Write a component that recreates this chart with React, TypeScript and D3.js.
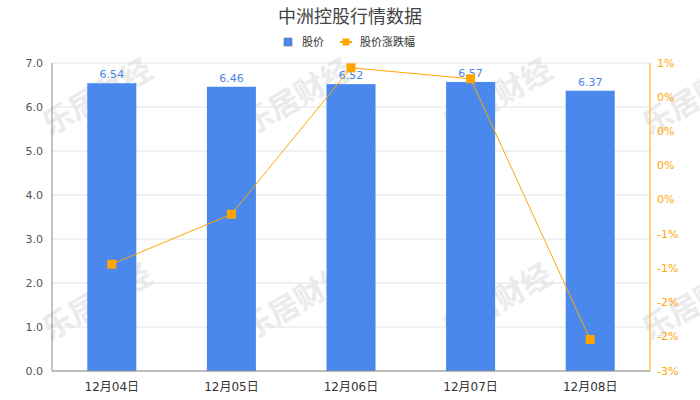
import * as d3 from 'd3';

const dates = ['12月04日', '12月05日', '12月06日', '12月07日', '12月08日'];
const prices = [6.54, 6.46, 6.52, 6.57, 6.37];
const changes = [-1.94, -1.21, 0.93, 0.77, -3.04];
const leftTicks = [0, 1, 2, 3, 4, 5, 6, 7];
const rightTickLabels = ['1%', '0%', '0%', '0%', '0%', '-1%', '-1%', '-2%', '-2%', '-3%'];
const watermarkCols = [97, 297, 497, 697];
const watermarkRows = [97, 302];

const W = 700;
const H = 400;
const margin = { top: 63, right: 50, bottom: 29, left: 52 };
const font = '"DejaVu Sans", "Noto Sans CJK SC", sans-serif';
const blue = '#4a88ee';
const orange = '#ffa500';

export default function App() {
  const x = d3.scaleBand(dates, [margin.left, W - margin.right]);
  const yL = d3.scaleLinear([0, 7], [H - margin.bottom, margin.top]);
  const yR = d3.scaleLinear([-3.5, 1], [H - margin.bottom, margin.top]);
  const rightTicks = rightTickLabels.map((_, i) => 1 - i * 0.5);
  const barW = x.bandwidth() * 0.41;
  const cx = (d: string) => (x(d) ?? 0) + x.bandwidth() / 2;

  const line = d3
    .line<number>()
    .x((_, i) => cx(dates[i]))
    .y((d) => yR(d));

  return (
    <svg
      width={W}
      height={H}
      style={{ position: 'absolute', left: 0, top: 0, fontFamily: font }}
    >
      <rect width={W} height={H} fill="#fff" />

      {/* watermarks */}
      {watermarkRows.map((wy) =>
        watermarkCols.map((wx) => (
          <text
            key={`${wx}-${wy}`}
            transform={`translate(${wx},${wy}) rotate(-30)`}
            textAnchor="middle"
            dominantBaseline="central"
            fontSize={30}
            fontWeight="bold"
            fill="#ebebeb"
          >
            乐居财经
          </text>
        ))
      )}

      {/* grid */}
      {leftTicks.map((t) => (
        <line
          key={t}
          x1={margin.left}
          x2={W - margin.right}
          y1={yL(t)}
          y2={yL(t)}
          stroke="#e3e3e3"
        />
      ))}

      {/* bars */}
      {dates.map((d, i) => (
        <g key={d}>
          <rect
            x={cx(d) - barW / 2}
            y={yL(prices[i])}
            width={barW}
            height={yL(0) - yL(prices[i])}
            fill={blue}
          />
          <text
            x={cx(d)}
            y={yL(prices[i]) - 5}
            textAnchor="middle"
            fontSize={11}
            fill="#4a86e8"
          >
            {prices[i].toFixed(2)}
          </text>
        </g>
      ))}

      {/* line */}
      <path d={line(changes) ?? ''} fill="none" stroke={orange} strokeWidth={1} />
      {changes.map((c, i) => (
        <rect
          key={i}
          x={cx(dates[i]) - 4.5}
          y={yR(c) - 4.5}
          width={9}
          height={9}
          fill={orange}
        />
      ))}

      {/* left axis */}
      <line
        x1={margin.left}
        x2={margin.left}
        y1={margin.top}
        y2={H - margin.bottom}
        stroke="#888"
      />
      {leftTicks.map((t) => (
        <text
          key={t}
          x={margin.left - 9}
          y={yL(t)}
          textAnchor="end"
          dominantBaseline="central"
          fontSize={11}
          fill="#555"
        >
          {t.toFixed(1)}
        </text>
      ))}

      {/* right axis */}
      <line
        x1={W - margin.right}
        x2={W - margin.right}
        y1={margin.top}
        y2={H - margin.bottom}
        stroke={orange}
      />
      {rightTicks.map((t, i) => (
        <text
          key={i}
          x={W - margin.right + 7}
          y={yR(t)}
          dominantBaseline="central"
          fontSize={11}
          fill={orange}
        >
          {rightTickLabels[i]}
        </text>
      ))}

      {/* bottom axis */}
      <line
        x1={margin.left}
        x2={W - margin.right}
        y1={H - margin.bottom}
        y2={H - margin.bottom}
        stroke="#888"
      />
      {dates.map((d) => (
        <text
          key={d}
          x={cx(d)}
          y={H - margin.bottom + 16}
          textAnchor="middle"
          dominantBaseline="central"
          fontSize={12}
          fill="#333"
        >
          {d}
        </text>
      ))}

      {/* title */}
      <text x={W / 2} y={23} textAnchor="middle" fontSize={18} fill="#444">
        中洲控股行情数据
      </text>

      {/* legend */}
      <rect x={284} y={38} width={8} height={8} fill={blue} stroke="#666" strokeWidth={0.5} />
      <text x={302} y={42} dominantBaseline="central" fontSize={11} fill="#333">
        股价
      </text>
      <line x1={340} x2={352} y1={42} y2={42} stroke={orange} strokeWidth={2} />
      <rect x={342.5} y={38.5} width={7} height={7} fill={orange} />
      <text x={360} y={42} dominantBaseline="central" fontSize={11} fill="#333">
        股价涨跌幅
      </text>
    </svg>
  );
}
